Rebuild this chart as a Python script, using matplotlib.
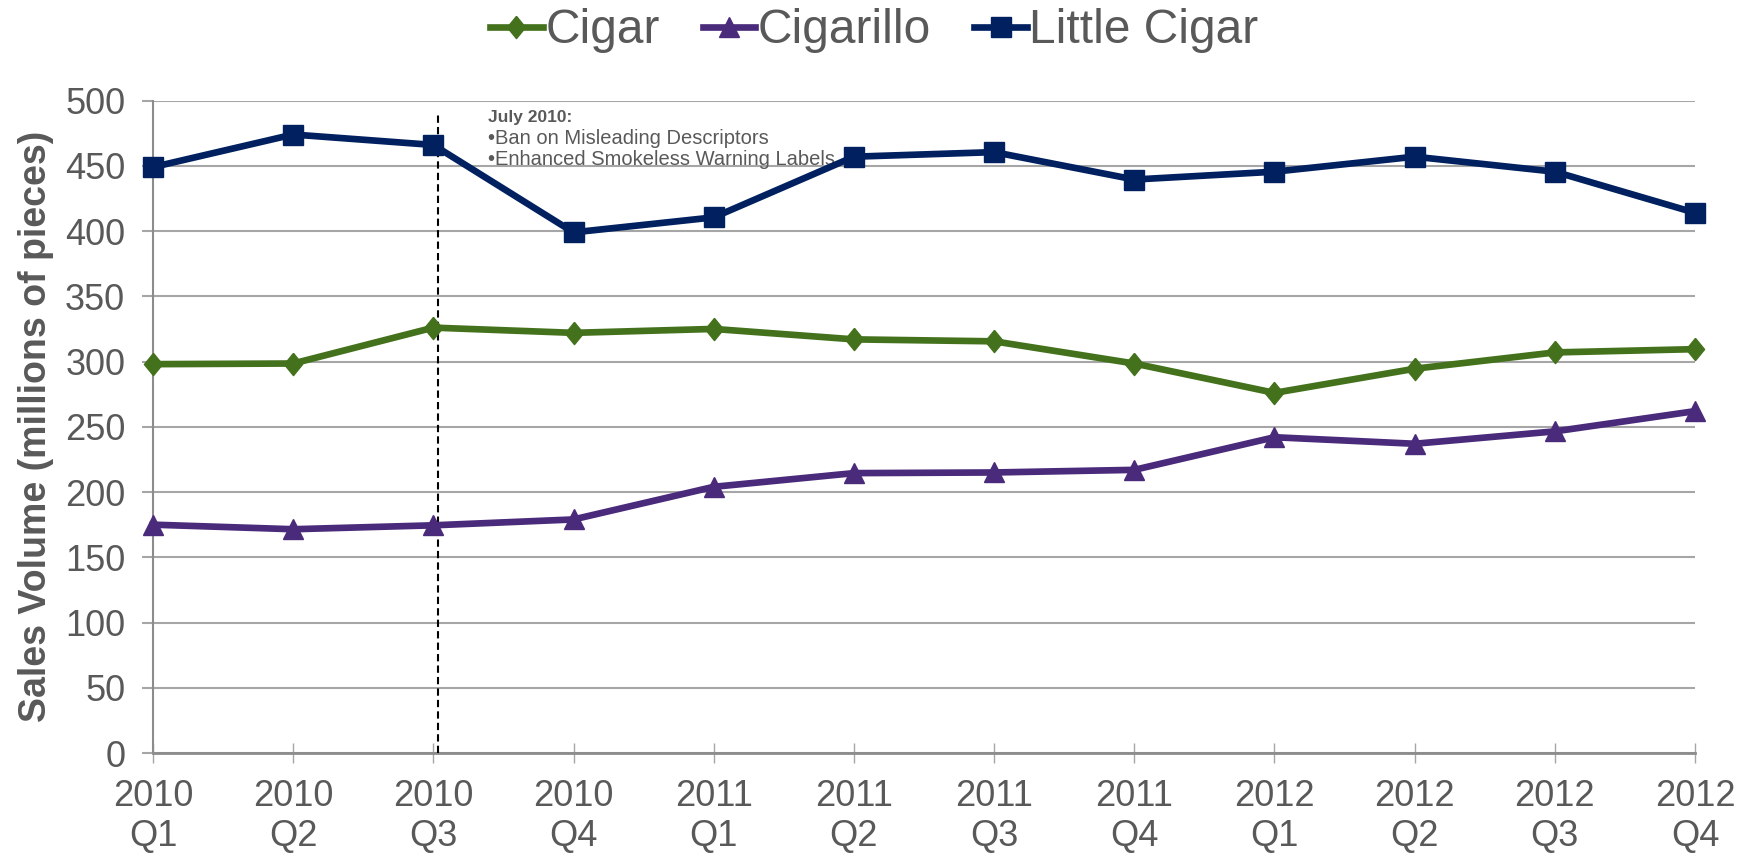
import numpy as np
import matplotlib as mpl
mpl.use('Agg')
import matplotlib.pyplot as plt

mpl.rcParams.update({'font.family': ['Liberation Sans', 'DejaVu Sans']})

quarters = ["2010\nQ1", "2010\nQ2", "2010\nQ3", "2010\nQ4",
            "2011\nQ1", "2011\nQ2", "2011\nQ3", "2011\nQ4",
            "2012\nQ1", "2012\nQ2", "2012\nQ3", "2012\nQ4"]

cigar = [298, 298.5, 326, 322, 325, 317, 315.5, 298.5, 276, 294.5, 307, 309.5]
cigarillo = [175, 171.5, 174.5, 179, 204, 214.5, 215, 217, 242, 237, 246.5, 262]
little_cigar = [449, 474, 466, 399, 410.5, 457, 460.5, 439.5, 445.5, 457, 445.5, 414]

policy_x = 2.03  # July 2010
note_title = "July 2010:"
note_lines = ["\u2022Ban on Misleading Descriptors",
              "\u2022Enhanced Smokeless Warning Labels"]

gray = "#595959"
grid_gray = "#a6a6a6"
# slightly taller-than-wide diamond
diamond = [(0, 1.1), (0.9, 0), (0, -1.1), (-0.9, 0), (0, 1.1)]


def plot_sales(save_path):
    fig = plt.figure(figsize=(17.52, 8.56), dpi=100)
    ax = fig.add_axes([0.0873, 0.1203, 0.9675 - 0.0873, 0.8825 - 0.1203])
    xs = np.arange(len(quarters))

    ax.plot(xs, cigar, label="Cigar", color="#44721c", lw=4.8,
            marker=diamond, markersize=16, clip_on=False, zorder=4)
    ax.plot(xs, cigarillo, label="Cigarillo", color="#4a2a7a", lw=4.8,
            marker="^", markersize=15, clip_on=False, zorder=4)
    ax.plot(xs, little_cigar, label="Little Cigar", color="#002060", lw=4.8,
            marker="s", markersize=14.5, clip_on=False, zorder=5)

    # regulation date
    ax.plot([policy_x, policy_x], [0, 491], color="black", lw=1.5,
            linestyle=(0, (3.5, 2)), zorder=3)
    ax.text(2.39, 483.4, note_title, fontsize=12.5, fontweight="bold",
            color=gray, va="baseline", ha="left")
    ax.text(2.39, 467, note_lines[0], fontsize=14.5, color=gray,
            va="baseline", ha="left")
    ax.text(2.39, 451, note_lines[1], fontsize=14.5, color=gray,
            va="baseline", ha="left")

    ax.set_xlim(0, 11)
    ax.set_ylim(0, 500)
    ax.set_xticks(xs)
    ax.set_xticklabels(quarters)
    for lbl in ax.get_xticklabels():
        lbl.set_linespacing(1.2)
    ax.set_yticks(np.arange(0, 501, 50))
    ax.yaxis.grid(True, color=grid_gray, lw=1.5)
    ax.set_axisbelow(True)

    for side in ["top", "right"]:
        ax.spines[side].set_visible(False)
    ax.spines["left"].set_color("#8c8c8c")
    ax.spines["bottom"].set_color("#8c8c8c")
    ax.spines["left"].set_linewidth(1.5)
    ax.spines["bottom"].set_linewidth(2)

    ax.tick_params(axis="x", direction="inout", length=15, width=1,
                   color="#a6a6a6", labelsize=26, labelcolor=gray, pad=11)
    ax.tick_params(axis="y", direction="out", length=8, width=1.5,
                   color="#a6a6a6", labelsize=26, labelcolor=gray, pad=12)

    ax.set_ylabel("Sales Volume (millions of pieces)", fontsize=27,
                  fontweight="bold", color=gray, labelpad=8)

    fig.legend(loc="center", bbox_to_anchor=(0.499, 0.964), ncol=3,
               frameon=False, fontsize=34.5, handlelength=1.1,
               handletextpad=0.05, columnspacing=0.9, numpoints=1,
               labelcolor=gray)

    plt.savefig(save_path, dpi=100)
    plt.close(fig)


if __name__ == "__main__":
    plot_sales("out.png")
